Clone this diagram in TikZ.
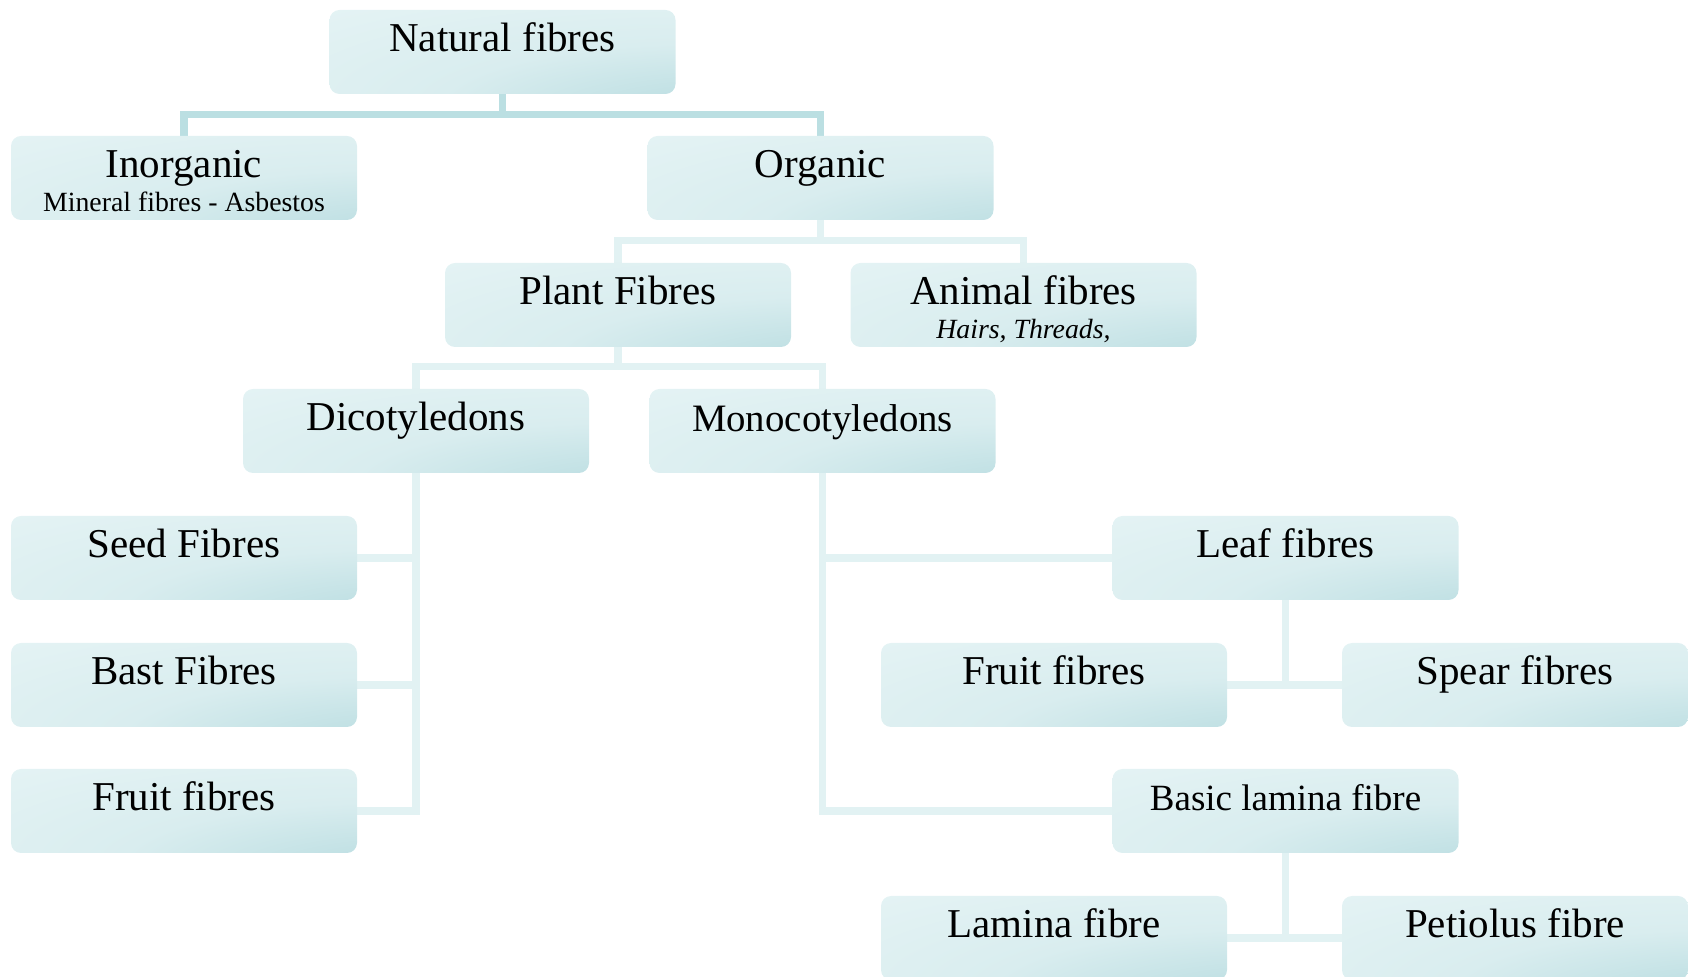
\documentclass[tikz,border=0pt]{standalone}
\usepackage{fontspec}
\setmainfont{Liberation Serif}
\usetikzlibrary{backgrounds}
\definecolor{boxlight}{HTML}{E6F4F5}
\definecolor{boxmid}{HTML}{D9EDEF}
\definecolor{boxdark}{HTML}{B6DBDF}
\definecolor{conndark}{HTML}{BBDFE2}
\definecolor{connlight}{HTML}{E2F2F3}
\pgfdeclareradialshading{boxshade}{\pgfpoint{42bp}{-48bp}}{%
  color(0bp)=(boxdark); color(10bp)=(boxdark); color(38bp)=(boxmid); color(70bp)=(boxlight); color(120bp)=(boxlight)}
\tikzset{
  fbox/.style={rectangle, rounded corners=5pt, minimum width=173pt, minimum height=42pt,
    inner sep=0pt, shade, shading=boxshade},
  lbl/.style={anchor=base, inner sep=0pt, font=\fontsize{20.5pt}{24pt}\selectfont},
  sublbl/.style={anchor=base, inner sep=0pt, font=\fontsize{13.9pt}{16pt}\selectfont},
  topconn/.style={draw=conndark, line width=3.6pt},
  conn/.style={draw=connlight, line width=3.6pt},
}
\begin{document}
\begin{tikzpicture}[x=0.5pt, y=-0.5pt]
\useasboundingbox (0,0) rectangle (1688,977);
% boxes
\node[fbox] (nat) at (502.5,52) {};
\node[fbox] (inorg) at (184,178) {};
\node[fbox] (org) at (820.5,178) {};
\node[fbox] (plant) at (618,305) {};
\node[fbox] (animal) at (1023.5,305) {};
\node[fbox] (dico) at (416,431) {};
\node[fbox] (mono) at (822.5,431) {};
\node[fbox] (seed) at (184,558) {};
\node[fbox] (bast) at (184,685) {};
\node[fbox] (fruitL) at (184,811) {};
\node[fbox] (leaf) at (1285.5,558) {};
\node[fbox] (fruitR) at (1054,685) {};
\node[fbox] (spear) at (1515,685) {};
\node[fbox] (basic) at (1285.5,811) {};
\node[fbox] (lamina) at (1054,938) {};
\node[fbox] (petiolus) at (1515,938) {};
% labels
\node[lbl] (natT) at ([yshift=-21pt]nat.north) {Natural fibres};
\node[lbl] (inorgT) at ([yshift=-21pt]inorg.north) {Inorganic};
\node[sublbl] (inorgS) at ([yshift=-38pt]inorg.north) {Mineral fibres - Asbestos};
\node[lbl] (orgT) at ([yshift=-21pt]org.north) {Organic};
\node[lbl] (plantT) at ([yshift=-21pt]plant.north) {Plant Fibres};
\node[lbl] (animalT) at ([yshift=-21pt]animal.north) {Animal fibres};
\node[sublbl] (animalS) at ([yshift=-38pt]animal.north) {\itshape Hairs, Threads,};
\node[lbl] (dicoT) at ([yshift=-21pt]dico.north) {Dicotyledons};
\node[lbl, font=\fontsize{19.4pt}{23pt}\selectfont] (monoT) at ([yshift=-21.5pt]mono.north) {Monocotyledons};
\node[lbl] (seedT) at ([yshift=-21pt]seed.north) {Seed Fibres};
\node[lbl] (bastT) at ([yshift=-21pt]bast.north) {Bast Fibres};
\node[lbl] (fruitLT) at ([yshift=-21pt]fruitL.north) {Fruit fibres};
\node[lbl] (leafT) at ([yshift=-21pt]leaf.north) {Leaf fibres};
\node[lbl] (fruitRT) at ([yshift=-21pt]fruitR.north) {Fruit fibres};
\node[lbl] (spearT) at ([yshift=-21pt]spear.north) {Spear fibres};
\node[lbl, font=\fontsize{18.5pt}{22pt}\selectfont] (basicT) at ([yshift=-21pt]basic.north) {Basic lamina fibre};
\node[lbl] (laminaT) at ([yshift=-21pt]lamina.north) {Lamina fibre};
\node[lbl] (petiolusT) at ([yshift=-21pt]petiolus.north) {Petiolus fibre};
% connectors
\begin{pgfonlayer}{background}
\draw[topconn] (nat.south) -- ++(0,22);
\draw[topconn] (inorg.north) -- ++(0,-21) -| (org.north);
\draw[conn] (org.south) -- ++(0,20);
\draw[conn] (plant.north) -- ++(0,-22) -| (animal.north);
\draw[conn] (plant.south) -- ++(0,20);
\draw[conn] (dico.north) -- ++(0,-22) -| (mono.north);
\draw[conn] (dico.south) |- (fruitL.east);
\draw[conn] (seed.east) -- (seed.east -| dico.south);
\draw[conn] (bast.east) -- (bast.east -| dico.south);
\draw[conn] (mono.south) |- (basic.west);
\draw[conn] (leaf.west) -- (leaf.west -| mono.south);
\draw[conn] (leaf.south) -- (leaf.south |- spear.west);
\draw[conn] (fruitR.east) -- (spear.west);
\draw[conn] (basic.south) -- (basic.south |- petiolus.west);
\draw[conn] (lamina.east) -- (petiolus.west);
\end{pgfonlayer}
\end{tikzpicture}
\end{document}
